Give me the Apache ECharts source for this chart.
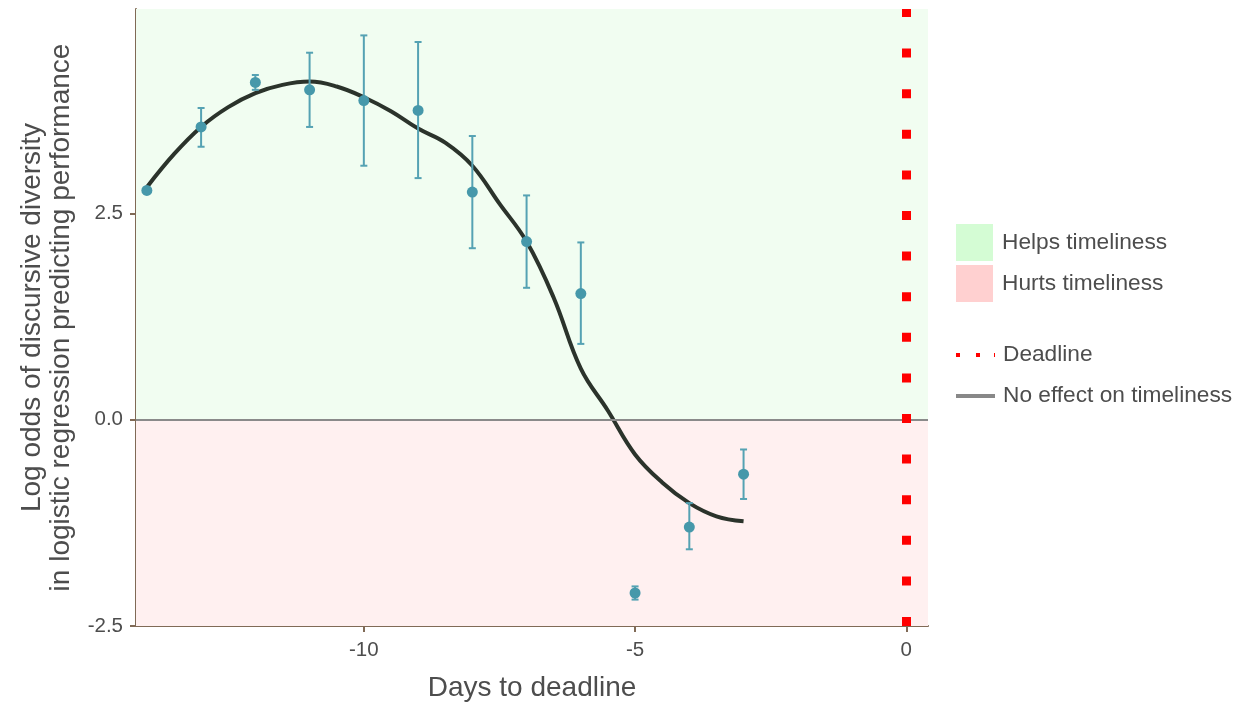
<!DOCTYPE html>
<html>
<head>
<meta charset="utf-8">
<script src="https://cdn.jsdelivr.net/npm/echarts@6/dist/echarts.min.js"></script>
<style>
  html, body { margin: 0; padding: 0; background: #fff; }
  #main { width: 1246px; height: 707px; }
</style>
</head>
<body>
<div id="main"></div>
<script>
// observed estimates per day
var days = [-14, -13, -12, -11, -10, -9, -8, -7, -6, -5, -4, -3];
var logOdds = [2.78, 3.55, 4.09, 4.00, 3.87, 3.75, 2.76, 2.16, 1.53, -2.10, -1.30, -0.66];
var lower = [2.76, 3.31, 4.00, 3.55, 3.08, 2.93, 2.08, 1.60, 0.92, -2.18, -1.57, -0.96];
var upper = [2.80, 3.78, 4.18, 4.45, 4.66, 4.58, 3.44, 2.72, 2.15, -2.02, -1.01, -0.36];

// smoothed fit
var fitX = [-14, -13.5, -13, -12.5, -12, -11.5, -11, -10.5, -10, -9.5, -9, -8.5, -8, -7.5, -7, -6.5, -6, -5.5, -5, -4.5, -4, -3.5, -3];
var fitY = [2.82, 3.22, 3.55, 3.79, 3.96, 4.06, 4.10, 4.04, 3.91, 3.74, 3.53, 3.36, 3.08, 2.62, 2.16, 1.48, 0.62, 0.11, -0.42, -0.76, -1.01, -1.17, -1.23];

var xTicks = [-10, -5, 0];
var yTicks = [-2.5, 0, 2.5];

var dom = document.getElementById('main');
var myChart = echarts.init(dom);

var pointData = [], barData = [], fitData = [];
for (var i = 0; i < days.length; i++) {
    pointData.push([days[i], logOdds[i]]);
    barData.push([days[i], lower[i], upper[i]]);
}
for (var j = 0; j < fitX.length; j++) {
    fitData.push([fitX[j], fitY[j]]);
}

var textColor = '#4d4d4d';
var axisColor = '#806a56';
var yMin = -2.5, yMax = 4.98;

option = {
    animation: false,
    textStyle: { fontFamily: 'Liberation Sans, Arial, sans-serif' },
    grid: { left: 136, right: 318, top: 9, bottom: 80 },
    legend: [{
        data: ['Helps timeliness', 'Hurts timeliness'],
        orient: 'vertical',
        left: 956, top: 224,
        padding: 0,
        icon: 'rect',
        itemWidth: 37, itemHeight: 37, itemGap: 4,
        selectedMode: false,
        textStyle: { fontSize: 22.7, color: textColor, padding: [3, 0, 0, 4] }
    }, {
        data: [
            { name: 'Deadline', icon: 'path://M0,0h4v4h-4zM20,0h4v4h-4zM38,0h1v4h-1z' },
            { name: 'No effect on timeliness', icon: 'rect' }
        ],
        orient: 'vertical',
        left: 956, top: 342,
        padding: 0,
        itemWidth: 39, itemHeight: 4, itemGap: 15,
        selectedMode: false,
        textStyle: { fontSize: 22.7, color: textColor, padding: [0, 0, 0, 3], lineHeight: 26 }
    }],
    xAxis: {
        type: 'value',
        min: -14.2, max: 0.4,
        name: 'Days to deadline',
        nameLocation: 'middle',
        nameGap: 48,
        nameTextStyle: { fontSize: 28, color: textColor },
        splitLine: { show: false },
        axisLine: { show: true, onZero: false, lineStyle: { color: axisColor, width: 2 } },
        axisTick: { show: true, customValues: xTicks, length: 6, lineStyle: { color: axisColor, width: 2 } },
        axisLabel: { customValues: xTicks, fontSize: 20.5, color: textColor, margin: 14 }
    },
    yAxis: {
        type: 'value',
        min: yMin, max: yMax,
        name: 'Log odds of discursive diversity\nin logistic regression predicting performance',
        nameLocation: 'middle',
        nameGap: 60,
        nameTextStyle: { fontSize: 28, color: textColor, lineHeight: 29 },
        splitLine: { show: false },
        axisLine: { show: true, onZero: false, lineStyle: { color: axisColor, width: 2 } },
        axisTick: { show: true, customValues: yTicks, length: 6, lineStyle: { color: axisColor, width: 2 } },
        axisLabel: {
            customValues: yTicks, fontSize: 20.5, color: textColor, margin: 13,
            formatter: function (v) { return v.toFixed(1); }
        }
    },
    series: [
        {
            name: 'Helps timeliness',
            type: 'line',
            data: [],
            itemStyle: { color: '#d4fcd4' },
            markArea: {
                silent: true,
                itemStyle: { color: '#f1fdf1' },
                data: [[{ yAxis: 0 }, { yAxis: yMax }]]
            },
            z: 1
        },
        {
            name: 'Hurts timeliness',
            type: 'line',
            data: [],
            itemStyle: { color: '#ffd0d0' },
            markArea: {
                silent: true,
                itemStyle: { color: '#fff0f0' },
                data: [[{ yAxis: yMin }, { yAxis: 0 }]]
            },
            z: 1
        },
        {
            name: 'No effect on timeliness',
            type: 'line',
            data: [],
            symbol: 'none',
            itemStyle: { color: '#888888' },
            lineStyle: { color: '#888888', width: 4 },
            markLine: {
                silent: true,
                symbol: 'none',
                label: { show: false },
                lineStyle: { color: '#8a8a8a', width: 2, type: 'solid' },
                data: [{ yAxis: 0 }]
            },
            z: 2
        },
        {
            name: 'Deadline',
            type: 'line',
            data: [],
            symbol: 'none',
            itemStyle: { color: '#ff0000' },
            lineStyle: { color: '#ff0000', width: 4 },
            markLine: {
                silent: true,
                symbol: 'none',
                label: { show: false },
                lineStyle: { color: '#ff0000', width: 9, type: [9, 31.6], cap: 'butt' },
                data: [{ xAxis: 0 }]
            },
            z: 3
        },
        {
            name: 'fit',
            type: 'line',
            data: fitData,
            smooth: 0.4,
            showSymbol: false,
            lineStyle: { color: '#2b332b', width: 4 },
            z: 4
        },
        {
            name: 'ci',
            type: 'custom',
            data: barData,
            encode: { x: 0, y: [1, 2] },
            renderItem: function (params, api) {
                var x = api.value(0);
                var top = api.coord([x, api.value(2)]);
                var bot = api.coord([x, api.value(1)]);
                var cap = 3.5;
                var st = { stroke: '#55a2b3', lineWidth: 2 };
                return {
                    type: 'group',
                    children: [
                        { type: 'line', shape: { x1: top[0], y1: top[1], x2: bot[0], y2: bot[1] }, style: st },
                        { type: 'line', shape: { x1: top[0] - cap, y1: top[1], x2: top[0] + cap, y2: top[1] }, style: st },
                        { type: 'line', shape: { x1: bot[0] - cap, y1: bot[1], x2: bot[0] + cap, y2: bot[1] }, style: st }
                    ]
                };
            },
            z: 5
        },
        {
            name: 'estimate',
            type: 'scatter',
            data: pointData,
            symbolSize: 11,
            itemStyle: { color: '#4698aa', opacity: 1 },
            z: 6
        }
    ]
};

myChart.setOption(option);
</script>
</body>
</html>
